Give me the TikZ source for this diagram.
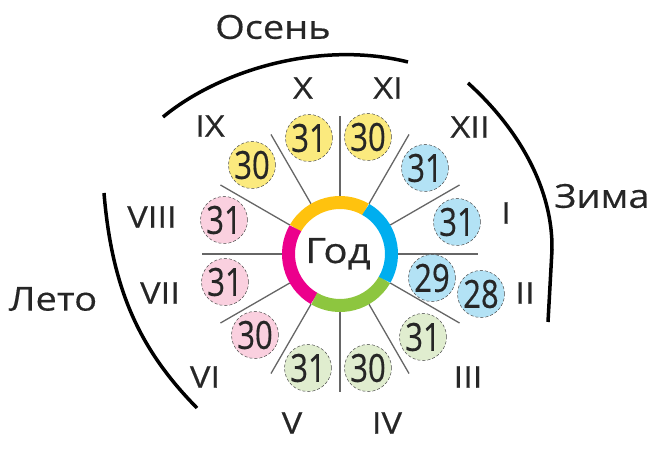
\documentclass[tikz,border=0pt]{standalone}
\usepackage{fontspec}
\setmainfont{Open Sans}
\newfontfamily\labelfont[FakeStretch=1.15,FakeBold=0.4]{Open Sans}
\newfontfamily\daysfont[FakeBold=0.5]{Open Sans}
\usepackage{graphicx}

\definecolor{ringyellow}{HTML}{FFC20E}
\definecolor{ringblue}{HTML}{00AEEF}
\definecolor{ringgreen}{HTML}{8DC63F}
\definecolor{ringpink}{HTML}{EC008C}
\definecolor{fillyellow}{HTML}{FBEA7E}
\definecolor{fillblue}{HTML}{B3E2F5}
\definecolor{fillgreen}{HTML}{E0EDCF}
\definecolor{fillpink}{HTML}{FAD0DF}

\newcommand{\days}[1]{\scalebox{1}[1.25]{#1}}

\tikzset{
  month/.style={circle, draw=black!70, densely dashed, line width=0.5pt, minimum size=47pt, inner sep=0pt, text=black!85, font=\daysfont\fontsize{31}{31}\selectfont},
  roman/.style={text=black!85, font=\labelfont\fontsize{30}{30}\selectfont},
  season/.style={text=black!85, font=\labelfont\fontsize{33}{33}\selectfont},
  spoke/.style={draw=black!60, line width=1.3pt},
  bracket/.style={draw=black, line width=3.5pt},
  ring/.style={line width=13pt}
}

\begin{document}
\begin{tikzpicture}[x=1pt,y=1pt]
  \useasboundingbox (-340,-201) rectangle (322,254);

  % spokes
  \foreach \a in {0,30,...,330}
    \draw[spoke] (\a:58) -- (\a:138);

  % ring
  \draw[ring,ringyellow] (60:51.5) arc[start angle=60, end angle=150, radius=51.5pt];
  \draw[ring,ringpink] (150:51.5) arc[start angle=150, end angle=240, radius=51.5pt];
  \draw[ring,ringgreen] (240:51.5) arc[start angle=240, end angle=330, radius=51.5pt];
  \draw[ring,ringblue] (330:51.5) arc[start angle=330, end angle=420, radius=51.5pt];
  \node[season, anchor=base, font=\labelfont\fontsize{35}{35}\selectfont] (god) at (-2,-9) {Год};

  % days
  \node[month, fill=fillblue] (jan) at (117,32) {\days{31}};
  \node[month, fill=fillblue] (febb) at (92,-24) {\days{29}};
  \node[month, fill=fillblue] (feba) at (141,-40) {\days{28}};
  \node[month, fill=fillgreen] (mar) at (83,-83) {\days{31}};
  \node[month, fill=fillgreen] (apr) at (28,-114) {\days{30}};
  \node[month, fill=fillgreen] (may) at (-32,-114) {\days{31}};
  \node[month, fill=fillpink] (jun) at (-85,-81) {\days{30}};
  \node[month, fill=fillpink] (jul) at (-115,-28) {\days{31}};
  \node[month, fill=fillpink] (aug) at (-116,34) {\days{31}};
  \node[month, fill=fillyellow] (sep) at (-88,89) {\days{30}};
  \node[month, fill=fillyellow] (oct) at (-31,116) {\days{31}};
  \node[month, fill=fillyellow] (nov) at (28,117) {\days{30}};
  \node[month, fill=fillblue] (dec) at (85,86) {\days{31}};

  % month numbers
  \node[roman] (rjan) at (166,41) {I};
  \node[roman] (rfeb) at (185,-39) {II};
  \node[roman] (rmar) at (128,-123) {III};
  \node[roman] (rapr) at (47,-169) {IV};
  \node[roman] (rmay) at (-48,-169) {V};
  \node[roman] (rjun) at (-135,-123) {VI};
  \node[roman] (rjul) at (-180,-39) {VII};
  \node[roman] (raug) at (-188,37) {VIII};
  \node[roman] (rsep) at (-130,128) {IX};
  \node[roman] (roct) at (-37,166) {X};
  \node[roman] (rnov) at (48,166) {XI};
  \node[roman] (rdec) at (130,127) {XII};

  % seasons
  \draw[bracket] (-177,137) .. controls (-120,184) and (-20,214) .. (68,192);
  \node[season] (autumn) at (-67,227) {Осень};
  \draw[bracket] (128,171) .. controls (180,124) and (213,64) .. (212,4) -- (208,-68);
  \node[season] (winter) at (262,58) {Зима};
  \draw[bracket] (-236,61) .. controls (-228,-36) and (-200,-96) .. (-143,-154);
  \node[season] (summer) at (-287,-45) {Лето};
\end{tikzpicture}
\end{document}
